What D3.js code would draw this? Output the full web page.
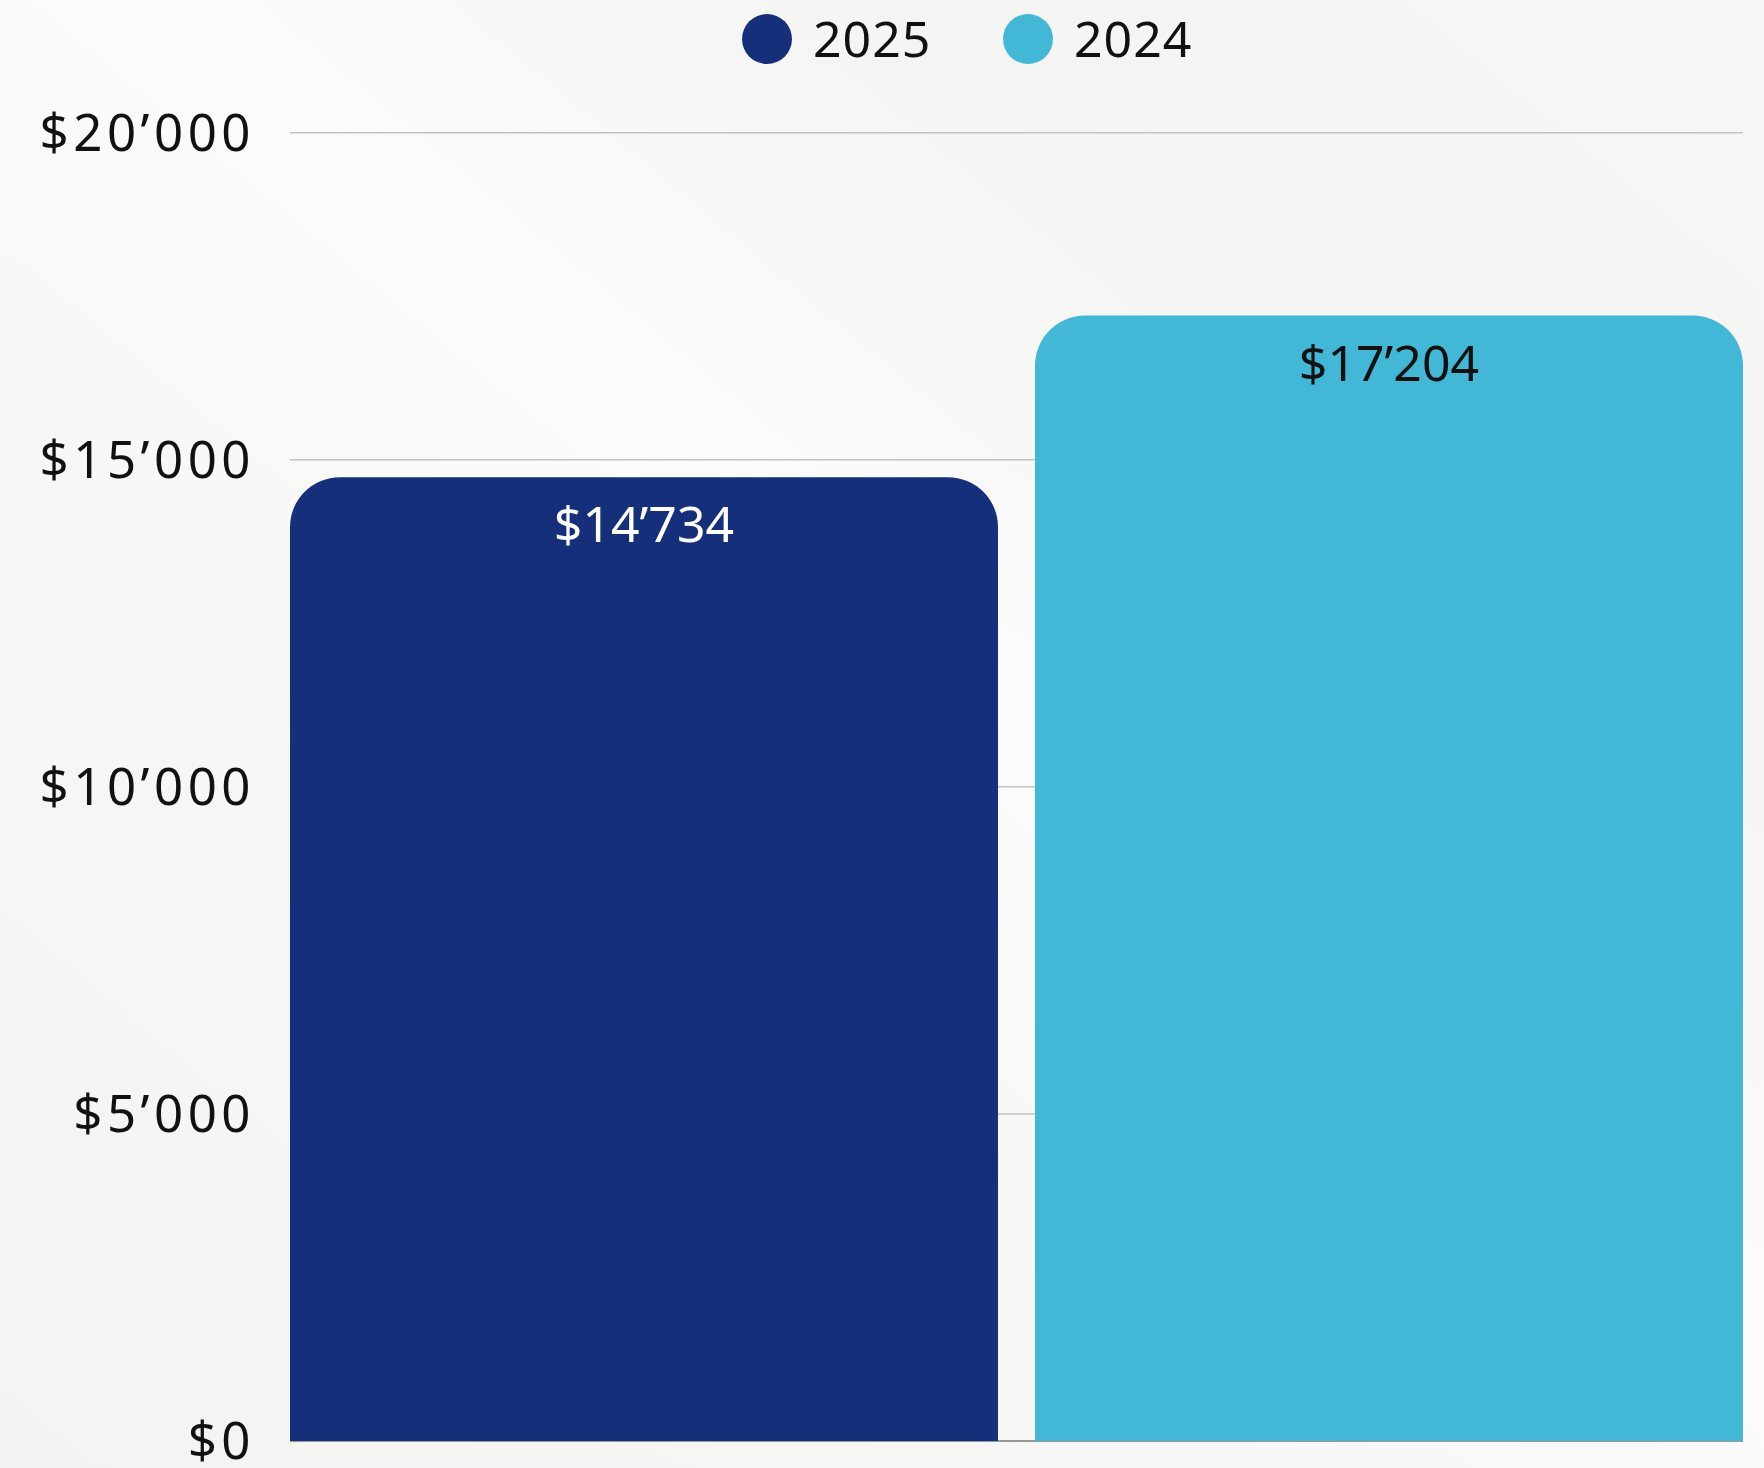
<!DOCTYPE html>
<html>
<head>
<meta charset="utf-8">
<script src="https://cdn.jsdelivr.net/npm/d3@7"></script>
<style>
  html, body { margin: 0; padding: 0; }
  body { width: 1764px; height: 1468px; overflow: hidden; }
  text { font-family: "Noto Sans", "Open Sans", sans-serif; }
</style>
</head>
<body>
<svg id="chart" width="1764" height="1468"></svg>
<script>
var categories = ["2025", "2024"];
var values = [14734, 17204];
var colors = ["#162f7a", "#42b7d6"];
var labelColors = ["#ffffff", "#111111"];
var tickValues = [0, 5000, 10000, 15000, 20000];

var svg = d3.select("#chart");
var W = 1764, H = 1468;
var plotLeft = 290, plotRight = 1743, plotTop = 132.7, plotBottom = 1441;

// background, light grey with soft streaks
var defs = svg.append("defs");
var bg = defs.append("linearGradient").attr("id", "bg")
  .attr("x1", "0").attr("y1", "1").attr("x2", "1").attr("y2", "0");
bg.append("stop").attr("offset", "0").attr("stop-color", "#f3f3f1");
bg.append("stop").attr("offset", "0.35").attr("stop-color", "#f7f7f6");
bg.append("stop").attr("offset", "0.55").attr("stop-color", "#fbfbfb");
bg.append("stop").attr("offset", "0.75").attr("stop-color", "#f4f4f3");
bg.append("stop").attr("offset", "1").attr("stop-color", "#f6f6f5");
svg.append("rect").attr("width", W).attr("height", H).attr("fill", "url(#bg)");

var fmt = function (v) {
  var s = d3.format(",")(v).replace(/,/g, "\u2019");
  return "$" + s;
};

var x = d3.scaleBand().domain(categories).range([plotLeft, plotRight])
  .paddingInner(0.0497).paddingOuter(0);
var y = d3.scaleLinear().domain([0, 20000]).range([plotBottom, plotTop]);

// gridlines
svg.append("g").selectAll("line").data(tickValues.filter(function (d) { return d > 0; }))
  .join("line")
  .attr("x1", plotLeft).attr("x2", plotRight)
  .attr("y1", function (d) { return y(d); }).attr("y2", function (d) { return y(d); })
  .attr("stroke", "#c2c2c2").attr("stroke-width", 1.5);

// baseline
svg.append("line").attr("x1", plotLeft).attr("x2", plotRight)
  .attr("y1", y(0)).attr("y2", y(0))
  .attr("stroke", "#777").attr("stroke-width", 1.5);

// y tick labels (wide geometric look: a little letter spacing)
svg.append("g").selectAll("text").data(tickValues).join("text")
  .attr("x", 255).attr("y", function (d) { return y(d); })
  .attr("dy", "0.36em")
  .attr("text-anchor", "end")
  .attr("font-size", 51)
  .attr("letter-spacing", 4.5)
  .attr("fill", "#111")
  .text(fmt);

// bars with rounded top corners
var r = 50;
function barPath(x0, w, y0, y1) {
  return "M" + x0 + "," + y1 +
    "V" + (y0 + r) +
    "A" + r + "," + r + " 0 0 1 " + (x0 + r) + "," + y0 +
    "H" + (x0 + w - r) +
    "A" + r + "," + r + " 0 0 1 " + (x0 + w) + "," + (y0 + r) +
    "V" + y1 + "Z";
}
var data = categories.map(function (c, i) { return {cat: c, val: values[i], i: i}; });

svg.append("g").selectAll("path").data(data).join("path")
  .attr("d", function (d) { return barPath(x(d.cat), x.bandwidth(), y(d.val), y(0)); })
  .attr("fill", function (d) { return colors[d.i]; });

svg.append("g").selectAll("text").data(data).join("text")
  .attr("x", function (d) { return x(d.cat) + x.bandwidth() / 2; })
  .attr("y", function (d) { return y(d.val) + 65; })
  .attr("text-anchor", "middle")
  .attr("font-size", 50)
  .attr("fill", function (d) { return labelColors[d.i]; })
  .text(function (d) { return fmt(d.val); });

// legend
var legendX = [767, 1028];
var lg = svg.append("g").selectAll("g").data(data).join("g")
  .attr("transform", function (d) { return "translate(" + legendX[d.i] + ",39)"; });
lg.append("circle").attr("r", 25).attr("fill", function (d) { return colors[d.i]; });
lg.append("text").attr("x", 46).attr("dy", "0.36em")
  .attr("font-size", 50).attr("letter-spacing", 1).attr("fill", "#111")
  .text(function (d) { return d.cat; });
</script>
</body>
</html>
